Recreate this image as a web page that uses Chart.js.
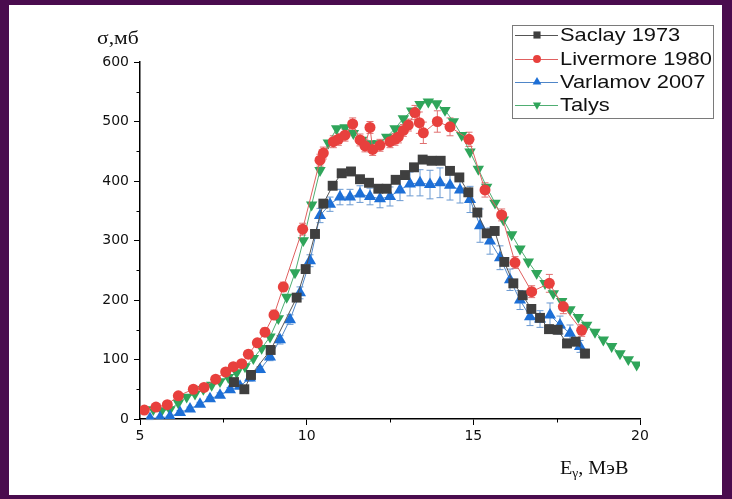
<!DOCTYPE html>
<html>
<head>
<meta charset="utf-8">
<script src="https://cdn.jsdelivr.net/npm/chart.js@4.4.1/dist/chart.umd.min.js"></script>
<style>
  html, body { margin: 0; padding: 0; width: 732px; height: 499px; overflow: hidden; background: #4a0c4e; }
  #wrap { position: absolute; left: 9px; top: 5px; width: 713px; height: 490px; background: #fff; }
</style>
</head>
<body>
<div id="wrap"><canvas id="c" width="713" height="490"></canvas></div>
<script>
// Photonuclear cross-section, sigma (mb) vs E_gamma (MeV)
const seriesNames = ["Saclay 1973", "Livermore 1980", "Varlamov 2007", "Talys"];

const saclayE = [7.82, 8.13, 8.33, 8.92, 9.7, 9.97, 10.25, 10.5, 10.78, 11.05, 11.33, 11.6, 11.87, 12.15, 12.4, 12.67, 12.95, 13.22, 13.48, 13.75, 14.02, 14.3, 14.58, 14.85, 15.12, 15.4, 15.64, 15.93, 16.2, 16.48, 16.74, 17.0, 17.27, 17.53, 17.81, 18.07, 18.35];
const saclayS = [62, 50, 74, 116, 204, 252, 311, 362, 392, 413, 416, 403, 397, 387, 387, 402, 410, 423, 436, 434, 434, 417, 406, 381, 347, 312, 316, 264, 228, 208, 185, 170, 151, 150, 127, 130, 110];
const saclayErr = [4, 4, 4, 4, 4, 5, 5, 5, 5, 5, 5, 5, 5, 5, 5, 5, 5, 5, 5, 5, 5, 5, 5, 5, 6, 6, 6, 6, 6, 6, 6, 7, 7, 7, 7, 7, 7];

const livermoreE = [5.13, 5.48, 5.82, 6.15, 6.6, 6.92, 7.27, 7.57, 7.8, 8.05, 8.25, 8.52, 8.75, 9.02, 9.3, 9.88, 10.4, 10.5, 10.8, 10.95, 11.15, 11.38, 11.6, 11.75, 11.9, 11.98, 12.2, 12.5, 12.65, 12.75, 12.9, 13.05, 13.25, 13.38, 13.5, 13.92, 14.3, 14.87, 15.35, 15.85, 16.25, 16.75, 17.28, 17.7, 18.25];
const livermoreS = [15, 20, 24, 39, 50, 53, 67, 79, 88, 93, 109, 128, 146, 175, 222, 319, 435, 447, 466, 470, 477, 496, 469, 459, 490, 453, 460, 466, 470, 474, 485, 494, 515, 498, 481, 500, 491, 470, 385, 343, 263, 214, 228, 189, 149];
const livermoreErr = [3, 3, 3, 4, 4, 4, 5, 5, 5, 5, 6, 6, 7, 8, 8, 10, 10, 10, 10, 10, 10, 10, 10, 10, 10, 10, 10, 10, 10, 10, 10, 10, 12, 18, 18, 18, 15, 12, 12, 10, 10, 10, 15, 12, 10];

const varlamovE = [5.3, 5.6, 5.9, 6.2, 6.5, 6.8, 7.1, 7.4, 7.7, 8.0, 8.3, 8.6, 8.9, 9.2, 9.5, 9.8, 10.1, 10.4, 10.7, 11.0, 11.3, 11.6, 11.9, 12.2, 12.5, 12.8, 13.1, 13.4, 13.7, 14.0, 14.3, 14.6, 14.9, 15.2, 15.5, 15.8, 16.1, 16.4, 16.7, 17.0, 17.3, 17.6, 17.9, 18.2];
const varlamovS = [1, 2, 4, 11, 17, 25, 34, 40, 49, 55, 69, 83, 104, 133, 167, 212, 266, 342, 361, 373, 373, 378, 374, 370, 374, 385, 395, 397, 394, 397, 393, 385, 369, 325, 299, 271, 234, 200, 172, 168, 175, 158, 144, 122];
const varlamovErr = [2, 2, 2, 3, 3, 3, 3, 4, 4, 4, 5, 5, 6, 7, 8, 10, 10, 12, 12, 13, 13, 14, 14, 15, 16, 18, 20, 22, 24, 25, 25, 22, 22, 28, 22, 20, 18, 16, 15, 14, 20, 15, 14, 10];

const talysE = [5.4, 5.65, 5.9, 6.15, 6.4, 6.65, 6.9, 7.15, 7.4, 7.65, 7.9, 8.15, 8.4, 8.65, 8.9, 9.15, 9.4, 9.65, 9.9, 10.15, 10.4, 10.65, 10.9, 11.15, 11.4, 11.65, 11.9, 12.15, 12.4, 12.65, 12.9, 13.15, 13.4, 13.65, 13.9, 14.15, 14.4, 14.65, 14.9, 15.15, 15.4, 15.65, 15.9, 16.15, 16.4, 16.65, 16.9, 17.15, 17.4, 17.65, 17.9, 18.15, 18.4, 18.65, 18.9, 19.15, 19.4, 19.65, 19.9];
const talysS = [16, 14, 16, 27, 37, 42, 50, 57, 63, 70, 78, 88, 102, 119, 138, 169, 205, 246, 300, 360, 418, 464, 488, 490, 480, 469, 463, 463, 474, 488, 505, 518, 529, 533, 530, 519, 500, 477, 449, 420, 390, 363, 335, 310, 286, 264, 245, 228, 211, 198, 184, 171, 158, 146, 133, 122, 110, 100, 91];

const xTicks = [5, 10, 15, 20];
const yTicks = [0, 100, 200, 300, 400, 500, 600];

const pts = (xs, ys) => xs.map((x, i) => ({ x, y: ys[i] }));

// Thin connecting line + marker, same look for all four series
function makeDataset(label, xs, ys, style) {
  return {
    label,
    data: pts(xs, ys),
    showLine: true,
    borderColor: style.line,
    borderWidth: 1,
    backgroundColor: style.fill,
    pointBackgroundColor: style.fill,
    pointBorderColor: style.fill,
    pointBorderWidth: 0,
    pointStyle: style.shape,
    pointRotation: style.rotation || 0,
    pointRadius: style.radius,
    pointHoverRadius: style.radius,
    order: style.order,
    err: style.err,
    errColor: style.errColor,
  };
}

const STYLES = [
  { line: "#555555", fill: "#3f3f3f", shape: "rect", radius: 7, order: 1, err: saclayErr, errColor: "#6a6a6a" },
  { line: "#e06060", fill: "#e8403d", shape: "circle", radius: 5.5, order: 0, err: livermoreErr, errColor: "#e07070" },
  { line: "#4f86c8", fill: "#1d6fd6", shape: "triangle", radius: 7, order: 2, err: varlamovErr, errColor: "#6b9ad2" },
  { line: "#4fae72", fill: "#2fa55a", shape: "triangle", rotation: 180, radius: 6.6, order: 3 },
];

// error bars, drawn under the markers
const errorBars = {
  id: "errorBars",
  beforeDatasetsDraw(chart) {
    const { ctx } = chart;
    const xs = chart.scales.x, ys = chart.scales.y;
    chart.data.datasets.forEach((ds) => {
      if (!ds.err) return;
      ctx.save();
      ctx.strokeStyle = ds.errColor;
      ctx.lineWidth = 1;
      ds.data.forEach((p, i) => {
        const e = ds.err[i];
        if (!e) return;
        const px = xs.getPixelForValue(p.x);
        const top = ys.getPixelForValue(p.y + e);
        const bot = ys.getPixelForValue(p.y - e);
        ctx.beginPath();
        ctx.moveTo(px, top); ctx.lineTo(px, bot);
        ctx.moveTo(px - 3.5, top); ctx.lineTo(px + 3.5, top);
        ctx.moveTo(px - 3.5, bot); ctx.lineTo(px + 3.5, bot);
        ctx.stroke();
      });
      ctx.restore();
    });
  },
};

function wideText(ctx, text, x, y, sx) {
  ctx.save();
  ctx.translate(x, y);
  ctx.scale(sx, 1);
  ctx.fillText(text, 0, 0);
  ctx.restore();
  return ctx.measureText(text).width * sx;
}

// minor ticks, axis titles and the boxed legend
const decorations = {
  id: "decorations",
  afterDraw(chart) {
    const { ctx } = chart;
    const xs = chart.scales.x, ys = chart.scales.y;
    const area = chart.chartArea;
    ctx.save();
    ctx.strokeStyle = "#000";
    ctx.lineWidth = 1;
    ctx.beginPath();
    for (let v = 50; v < 600; v += 100) {
      const py = Math.round(ys.getPixelForValue(v)) + 0.5;
      ctx.moveTo(area.left, py); ctx.lineTo(area.left - 3.5, py);
    }
    for (const v of [7.5, 12.5, 17.5]) {
      const px = Math.round(xs.getPixelForValue(v)) + 0.5;
      ctx.moveTo(px, area.bottom); ctx.lineTo(px, area.bottom + 3.5);
    }
    ctx.stroke();

    // axis titles
    ctx.fillStyle = "#111";
    ctx.textBaseline = "alphabetic";
    ctx.font = "18px 'Liberation Serif', serif";
    wideText(ctx, "σ,мб", 88, 39, 1.2);
    let tx = 551;
    tx += wideText(ctx, "E", tx, 469, 1.12);
    ctx.font = "12px 'Liberation Serif', serif";
    tx += wideText(ctx, "γ", tx, 472, 1.12);
    ctx.font = "18px 'Liberation Serif', serif";
    wideText(ctx, ", МэВ", tx, 469, 1.12);

    // legend box
    const bx = 503, by = 20, bw = 201, bh = 93;
    ctx.strokeStyle = "#7a7a7a";
    ctx.strokeRect(bx + 0.5, by + 0.5, bw, bh);
    const rows = [30, 54, 77, 100];
    ctx.font = "19px 'Liberation Sans', Arial, sans-serif";
    ctx.textBaseline = "middle";
    chart.data.datasets.forEach((ds, i) => {
      const st = STYLES[i];
      const ry = rows[i];
      ctx.strokeStyle = st.line;
      ctx.lineWidth = 1;
      ctx.beginPath();
      ctx.moveTo(506, ry + 0.5); ctx.lineTo(549, ry + 0.5);
      ctx.stroke();
      ctx.fillStyle = st.fill;
      ctx.strokeStyle = st.fill;
      Chart.helpers.drawPoint(ctx, { pointStyle: st.shape, rotation: st.rotation || 0, radius: st.radius * 0.72, borderWidth: 0 }, 528, ry);
      ctx.fillStyle = "#111";
      wideText(ctx, ds.label, 551, ry + 1, 1.15);
    });
    ctx.restore();
  },
};

const datasets = [
  makeDataset(seriesNames[0], saclayE, saclayS, STYLES[0]),
  makeDataset(seriesNames[1], livermoreE, livermoreS, STYLES[1]),
  makeDataset(seriesNames[2], varlamovE, varlamovS, STYLES[2]),
  makeDataset(seriesNames[3], talysE, talysS, STYLES[3]),
];

const tickFont = { family: "'DejaVu Sans', sans-serif", size: 14 };

new Chart(document.getElementById("c"), {
  type: "scatter",
  data: { datasets },
  options: {
    responsive: false,
    animation: false,
    layout: { padding: { top: 57, right: 82, left: 0, bottom: 0 } },
    plugins: { legend: { display: false }, tooltip: { enabled: false } },
    elements: { line: { tension: 0 } },
    scales: {
      x: {
        type: "linear",
        min: 5,
        max: 20,
        afterBuildTicks(scale) { scale.ticks = xTicks.map((v) => ({ value: v })); },
        afterFit(scale) { scale.height = 76; },
        ticks: { color: "#111", font: tickFont, padding: 3, maxRotation: 0 },
        grid: { drawOnChartArea: false, drawTicks: true, tickLength: 6, color: "#000", lineWidth: 1 },
        border: { color: "#000", width: 1.5 },
      },
      y: {
        min: 0,
        max: 600,
        afterBuildTicks(scale) { scale.ticks = yTicks.map((v) => ({ value: v })); },
        afterFit(scale) { scale.width = 131; },
        ticks: { color: "#111", font: tickFont, padding: 5 },
        grid: { drawOnChartArea: false, drawTicks: true, tickLength: 6, color: "#000", lineWidth: 1 },
        border: { color: "#000", width: 1.5 },
      },
    },
  },
  plugins: [errorBars, decorations],
});
</script>
</body>
</html>
